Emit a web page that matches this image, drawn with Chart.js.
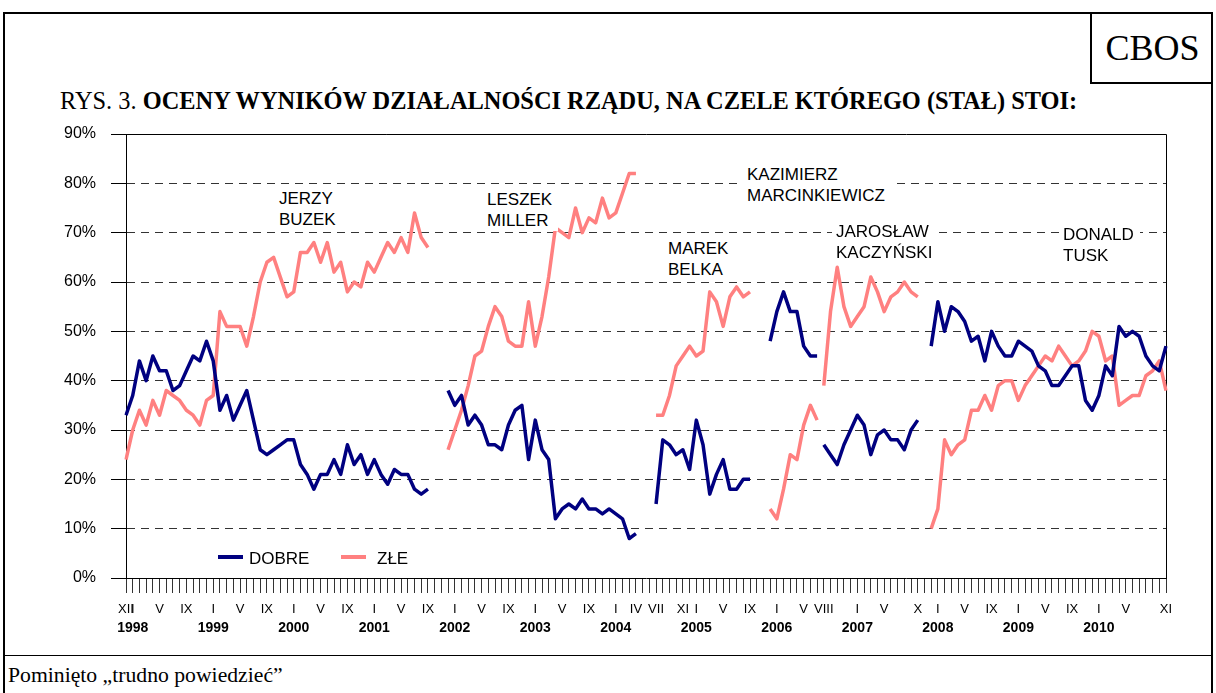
<!DOCTYPE html>
<html lang="pl">
<head>
<meta charset="utf-8">
<script src="https://cdn.jsdelivr.net/npm/chart.js@4.4.0/dist/chart.umd.min.js"></script>
<style>
  html, body { margin:0; padding:0; background:#fff; }
  body { width:1216px; height:693px; position:relative; overflow:hidden; font-family:"Liberation Sans", Arial, sans-serif; }
  #frame { position:absolute; left:3px; top:12px; width:1210px; height:700px; border:2px solid #000; box-sizing:border-box; }
  #noteLine { position:absolute; left:3px; top:655px; width:1210px; height:0; border-top:1px solid #000; }
  #cbos { position:absolute; left:1090px; top:12px; width:123px; height:72px; border-left:2px solid #000; border-bottom:2px solid #000; box-sizing:border-box;
          font-family:"Liberation Serif","Times New Roman",serif; font-size:36px; display:flex; align-items:center; justify-content:center; padding-top:2px; }
  #title { position:absolute; left:60px; top:89px; font-family:"Liberation Serif","Times New Roman",serif; font-size:24.4px; line-height:1; white-space:nowrap; }
  #title b { font-weight:bold; }
  #note { position:absolute; left:8px; top:663px; font-family:"Liberation Serif","Times New Roman",serif; font-size:21.7px; white-space:nowrap; }
  canvas { position:absolute; left:0; top:0; }
  .ann { position:absolute; background:#fff; font-size:17px; line-height:21px; padding:0 6px 0 4px; white-space:nowrap; color:#000; }
  .leg { position:absolute; font-size:17px; line-height:21px; white-space:nowrap; }
  .legbar { position:absolute; height:4px; width:25px; }
</style>
</head>
<body>
<div id="frame"></div>
<div id="noteLine"></div>
<div id="cbos">CBOS</div>
<div id="title">RYS. 3. <b>OCENY WYNIKÓW DZIAŁALNOŚCI RZĄDU, NA CZELE KTÓREGO (STAŁ) STOI:</b></div>
<canvas id="chart" width="1216" height="650"></canvas>
<div class="ann" style="left:275px; top:188px;">JERZY<br>BUZEK</div>
<div class="ann" style="left:483px; top:189px;">LESZEK<br>MILLER</div>
<div class="ann" style="left:743px; top:164px;">KAZIMIERZ<br>MARCINKIEWICZ</div>
<div class="ann" style="left:664px; top:238px;">MAREK<br>BELKA</div>
<div class="ann" style="left:832px; top:221px;">JAROSŁAW<br>KACZYŃSKI</div>
<div class="ann" style="left:1059px; top:224px;">DONALD<br>TUSK</div>
<div class="legbar" style="left:218px; top:555px; background:#000080;"></div>
<div class="leg" style="left:249px; top:548px;">DOBRE</div>
<div class="legbar" style="left:341px; top:555px; background:#FF8080;"></div>
<div class="leg" style="left:377px; top:548px;">ZŁE</div>
<div id="note">Pominięto „trudno powiedzieć”</div>
<script>
// ---- categories (monthly, XII 1997 .. XI 2010) ----
const romanMonths = ['I','II','III','IV','V','VI','VII','VIII','IX','X','XI','XII'];
const years = [1997,1998,1999,2000,2001,2002,2003,2004,2005,2006,2007,2008,2009,2010];
const firstCategory = 'XII 1997';
const lastCategory = 'XI 2010';

// ---- tick labels ----
const labeledMonths = ['XII 1997','I 1998','V 1998','IX 1998','I 1999','V 1999','IX 1999','I 2000','V 2000','IX 2000',
  'I 2001','V 2001','IX 2001','I 2002','V 2002','IX 2002','I 2003','V 2003','IX 2003','I 2004','IV 2004','VII 2004','XI 2004',
  'I 2005','V 2005','IX 2005','I 2006','V 2006','VIII 2006','I 2007','V 2007','X 2007','I 2008','V 2008','IX 2008',
  'I 2009','V 2009','IX 2009','I 2010','V 2010','XI 2010'];
const yearLabels = ['1998','1999','2000','2001','2002','2003','2004','2005','2006','2007','2008','2009','2010'];
const yTicks = [0,10,20,30,40,50,60,70,80,90];

// ---- series values (%), one pair per government ----
const startBuzek = 'XII 1997';
const dobreBuzek = [33,37,44,40,45,42,42,38,39,42,45,44,48,44,34,37,32,35,38,32,26,25,26,27,28,28,23,21,18,21,21,24,21,27,23,25,21,24,21,19,22,21,21,18,17,18];
const zleBuzek   = [24,30,34,31,36,33,38,37,36,34,33,31,36,37,54,51,51,51,47,53,60,64,65,61,57,58,66,66,68,64,68,62,64,58,60,59,64,62,65,68,66,69,66,74,69,67];

const startMiller = 'XII 2001';
const dobreMiller = [38,35,37,31,33,31,27,27,26,31,34,35,24,32,26,24,12,14,15,14,16,14,14,13,14,13,12,8,9];
const zleMiller   = [26,30,34,39,45,46,51,55,53,48,47,47,56,47,53,61,71,70,69,75,70,73,72,77,73,74,78,82,82];

const startBelka = 'VII 2004';
const dobreBelka = [15,28,27,25,26,22,32,27,17,21,24,18,18,20,20];
const zleBelka   = [33,33,37,43,45,47,45,46,58,56,51,57,59,57,58];

const startMarcinkiewicz = 'XII 2005';
const dobreMarcinkiewicz = [48,54,58,54,54,47,45,45];
const zleMarcinkiewicz   = [14,12,18,25,24,31,35,32];

const startKaczynski = 'VIII 2006';
const dobreKaczynski = [27,25,23,27,30,33,31,25,29,30,28,28,26,30,32];
const zleKaczynski   = [39,54,63,55,51,53,55,61,58,54,57,58,60,58,57];

const startTusk = 'XII 2007';
const dobreTusk = [47,56,50,55,54,52,48,49,44,50,47,45,45,48,47,46,43,42,39,39,41,43,43,36,34,37,43,41,51,49,50,49,45,43,42,47];
const zleTusk   = [10,14,28,25,27,28,34,34,37,34,39,40,40,36,39,41,43,45,44,47,45,43,44,46,50,49,44,45,35,36,37,37,41,42,44,38];

// ---- build category list ----
const allMonths = [];
years.forEach(y => romanMonths.forEach(m => allMonths.push(m + ' ' + y)));
const categories = allMonths.slice(allMonths.indexOf(firstCategory), allMonths.indexOf(lastCategory) + 1);
const governmentStarts = [startBuzek, startMiller, startBelka, startMarcinkiewicz, startKaczynski, startTusk]
  .map(s => categories.indexOf(s));

function buildSeries(parts) {
  const out = categories.map(() => null);
  parts.forEach(([start, vals]) => {
    const s = categories.indexOf(start);
    vals.forEach((v, k) => { out[s + k] = v; });
  });
  return out;
}
const dobre = buildSeries([[startBuzek, dobreBuzek],[startMiller, dobreMiller],[startBelka, dobreBelka],
  [startMarcinkiewicz, dobreMarcinkiewicz],[startKaczynski, dobreKaczynski],[startTusk, dobreTusk]]);
const zle = buildSeries([[startBuzek, zleBuzek],[startMiller, zleMiller],[startBelka, zleBelka],
  [startMarcinkiewicz, zleMarcinkiewicz],[startKaczynski, zleKaczynski],[startTusk, zleTusk]]);

// break the line where one government ends and the next one begins
const breakAtGovernment = { borderColor: c => governmentStarts.includes(c.p1DataIndex) ? 'rgba(0,0,0,0)' : undefined };

const plotFrame = {
  id: 'plotFrame',
  beforeDatasetsDraw(chart) {
    const a = chart.chartArea, c = chart.ctx;
    c.save();
    c.strokeStyle = '#000'; c.lineWidth = 1;
    c.beginPath();
    c.moveTo(a.left, Math.round(a.top) + 0.5);
    c.lineTo(Math.round(a.right) + 0.5, Math.round(a.top) + 0.5);
    c.lineTo(Math.round(a.right) + 0.5, a.bottom);
    c.stroke();
    c.restore();
  }
};

const FONT = '"Liberation Sans", Arial, sans-serif';
new Chart(document.getElementById('chart'), {
  type: 'line',
  data: {
    labels: categories,
    datasets: [
      { label: 'DOBRE', data: dobre, borderColor: '#000080', backgroundColor: '#000080', borderWidth: 3.5,
        pointRadius: 0, tension: 0, spanGaps: false, borderJoinStyle: 'round', borderCapStyle: 'butt', segment: breakAtGovernment },
      { label: 'ZŁE', data: zle, borderColor: '#FF8080', backgroundColor: '#FF8080', borderWidth: 3.5,
        pointRadius: 0, tension: 0, spanGaps: false, borderJoinStyle: 'round', borderCapStyle: 'butt', segment: breakAtGovernment }
    ]
  },
  options: {
    responsive: false, animation: false, devicePixelRatio: 1,
    layout: { padding: { left: 10, right: 50, top: 134, bottom: 7 } },
    plugins: { legend: { display: false }, tooltip: { enabled: false }, title: { display: false } },
    scales: {
      x: {
        type: 'category', position: 'bottom', offset: false, weight: 0,
        grid: { display: true, drawOnChartArea: false, drawTicks: true, tickLength: 15, tickColor: '#333', tickWidth: 1 },
        border: { display: true, color: '#000', width: 1 },
        ticks: { autoSkip: false, maxRotation: 0, minRotation: 0, padding: 9, color: '#000',
          font: { family: FONT, size: 13 },
          callback: (v, i) => labeledMonths.includes(categories[i]) ? categories[i].split(' ')[0] : '' },
        afterFit: s => { s.height = 40; }
      },
      xYear: {
        type: 'category', position: 'bottom', offset: false, weight: 1,
        grid: { display: false, drawTicks: false }, border: { display: false },
        ticks: { autoSkip: false, maxRotation: 0, minRotation: 0, padding: 2, color: '#000',
          font: { family: FONT, size: 14, weight: 'bold' },
          callback: (v, i) => { const p = categories[i].split(' '); return (p[0] === 'I' && yearLabels.includes(p[1])) ? p[1] : ''; } },
        afterFit: s => { s.height = 25; }
      },
      y: {
        min: 0, max: 90,
        afterBuildTicks: s => { s.ticks = yTicks.map(v => ({ value: v })); },
        grid: { display: true, drawOnChartArea: true, drawTicks: true, tickLength: 15, tickColor: '#000', tickWidth: 1,
          tickBorderDash: [],
          color: c => (c.tick && (c.tick.value === 0 || c.tick.value === 90)) ? 'rgba(0,0,0,0)' : '#333', lineWidth: 1 },
        border: { display: true, color: '#000', width: 1, dash: [8, 6] },
        ticks: { padding: 15, color: '#000', font: { family: FONT, size: 16 }, callback: v => v + '%' },
        afterFit: s => { s.width = 116; }
      }
    }
  },
  plugins: [plotFrame]
});
</script>
</body>
</html>
